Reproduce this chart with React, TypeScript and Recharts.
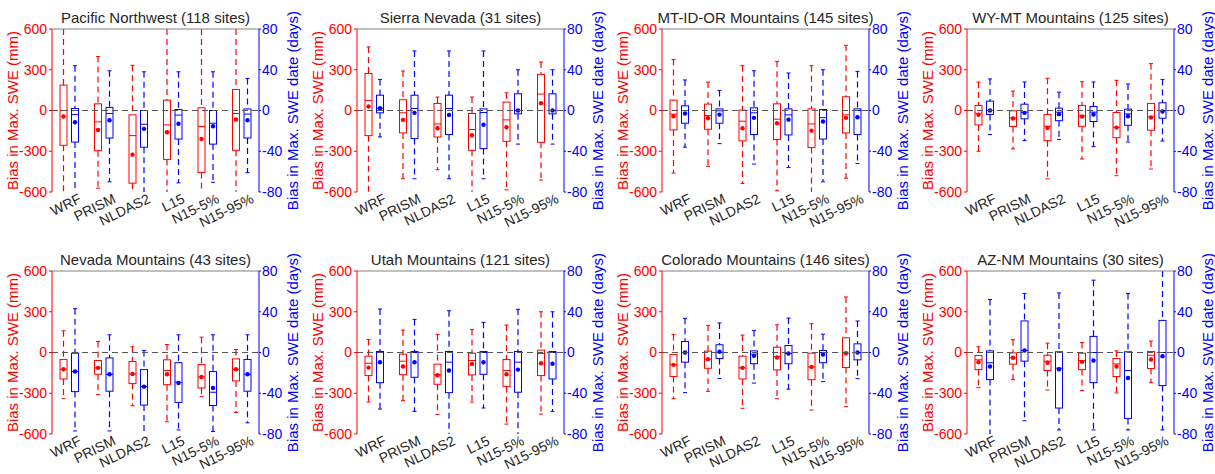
import React from 'react';
import { ComposedChart, Bar, XAxis, YAxis, ReferenceLine } from 'recharts';

const products = ['WRF', 'PRISM', 'NLDAS2', 'L15', 'N15-5%', 'N15-95%'];
const sweTicks = [-600, -300, 0, 300, 600];
const dateTicks = [-80, -40, 0, 40, 80];
const groupEdges = [1, 2, 3, 4, 5];

// each row: [low whisker, q1, median, q3, high whisker, mean], one row per product
const pnwSwe = [
  [-600, -256, 0, 187, 600, -44],
  [-572, -296, -84, 49, 397, -143],
  [-600, -535, -185, -32, 333, -325],
  [-600, -360, -106, 76, 600, -160],
  [-600, -456, -118, 20, 600, -209],
  [-600, -293, -22, 155, 600, -66],
];
const pnwDate = [
  [-80, -31, -4, 2, 44, -11.5],
  [-70, -27, -3, 3, 39, -9.5],
  [-80, -36, -13.5, 0, 38, -18],
  [-71, -28, -4.5, 1, 38, -13],
  [-70.5, -33, -12.5, 0, 38, -15.5],
  [-61, -27, -3.5, 1.5, 31.5, -9.5],
];

const sierraSwe = [
  [-600, -185, 74, 273, 468, 30],
  [-503, -165, -17, 79, 291, -69],
  [-436, -195, -99, 52, 99, -131],
  [-600, -293, -140, -22, 99, -182],
  [-584, -227, -69, 62, 130, -123],
  [-512, -234, 121, 266, 357, 54],
];
const sierraDate = [
  [-26, -2.3, 2.3, 15, 30.5, 2.3],
  [-67, -27.6, 2, 15, 58.5, -2.3],
  [-67, -23.6, 2, 15, 58.5, -4.3],
  [-67, -37.4, -2, 1.6, 58.5, -14],
  [-33, -3.3, 0, 16.4, 40, 0],
  [-33, -3.3, 0, 16.4, 40, 0],
];

const mtidorSwe = [
  [-461, -143, -27, 76, 375, -42],
  [-411, -138, -37, 47, 209, -57],
  [-537, -224, -79, 2.5, 330, -131],
  [-591, -214, -64, 49, 362, -94],
  [-600, -273, -99, 12, 330, -148],
  [-498, -165, -32, 101, 480, -54],
];
const mtidorDate = [
  [-36, -12.5, 0, 4.6, 30, -3],
  [-32.5, -12.5, -0.3, 1.6, 19.7, -4],
  [-52.6, -23.6, -2.3, 2.6, 39, -7.2],
  [-56, -24, -4.3, 1.6, 36.8, -9],
  [-70, -28, -7, 1, 40, -10.8],
  [-52, -23.6, 0, 1.6, 38.4, -6.6],
];

const wymtSwe = [
  [-300, -106, -20, 37, 209, -32],
  [-283, -118, -54, -2.5, 143, -59],
  [-503, -222, -116, -30, 237, -128],
  [-357, -116, -39, 37, 212, -44],
  [-480, -200, -123, -15, 222, -126],
  [-431, -145, -47, 52, 345, -52],
];
const wymtDate = [
  [-23.6, -3.9, 0, 9.2, 31, 0],
  [-29.6, -8.2, -1.6, 6.2, 28, -2.3],
  [-28.6, -10, -1.6, 2.3, 18, -3.6],
  [-35.5, -10.8, -1.6, 3.9, 28, -3.9],
  [-31, -14.5, -3.3, 1.3, 26, -5.6],
  [-30, -7.6, 0, 7.6, 30.5, -1],
];

const nevadaSwe = [
  [-340, -195, -123, -52, 160, -123],
  [-310, -160, -113, -59, 81, -113],
  [-392, -229, -158, -66, 42, -158],
  [-510, -237, -133, -54, 59, -160],
  [-325, -261, -180, -89, 113, -180],
  [-441, -209, -123, -47, 22, -123],
];
const nevadaDate = [
  [-77, -38.4, -18.7, -0.7, 43, -18.7],
  [-77, -38, -21.4, -5.3, 17.4, -21.4],
  [-80, -51.6, -33.5, -16.8, 2, -33.5],
  [-76, -49, -29.2, -10, 17.4, -30],
  [-77.5, -52, -39, -18.7, 17.4, -34.8],
  [-69, -38, -21.4, -6.9, 17.4, -21.4],
];

const utahSwe = [
  [-365, -170, -79, -27, 96, -111],
  [-355, -163, -64, -12, 165, -103],
  [-456, -234, -163, -86, 133, -168],
  [-365, -165, -59, -5, 170, -84],
  [-527, -251, -133, -52, 202, -160],
  [-453, -170, -7, 17, 300, -79],
];
const utahDate = [
  [-55.5, -29.6, 0, 1, 42.7, -9.5],
  [-57.8, -24.3, 0, 1, 32.5, -9.5],
  [-80, -39.4, -9.5, 1, 41, -17.7],
  [-54.5, -21.4, 0, 1, 29.6, -9.5],
  [-80, -39, -9.5, 1, 42.4, -16.8],
  [-57.8, -26, 0, 1, 40, -11],
];

const coloradoSwe = [
  [-340, -177, -91, -15, 133, -91],
  [-286, -116, -49, 10, 200, -49],
  [-411, -195, -113, -27, 128, -113],
  [-340, -128, -30, 39, 204, -37],
  [-424, -200, -106, -5, 212, -106],
  [-399, -111, -5, 108, 409, -5],
];
const coloradoDate = [
  [-39.4, -9.5, 0, 10.8, 33.5, 0],
  [-25.6, -5.9, 0, 7.6, 29, 0.7],
  [-30, -11, -1.6, 1.6, 21.7, -3.3],
  [-36, -11, -1, 6.9, 33.8, -1],
  [-28.6, -10, 0, 2, 18, -2],
  [-25.6, -7.2, 0, 8.5, 30.9, 0],
];

const aznmSwe = [
  [-259, -126, -54, -22, 42, -71],
  [-200, -86, -39, -2.5, 94, -39],
  [-276, -133, -64, -20, 69, -76],
  [-281, -126, -59, -5, 74, -69],
  [-298, -177, -84, -44, 12, -103],
  [-222, -118, -20, 7, 84, -52],
];
const aznmDate = [
  [-80, -26.6, -10, 1.6, 52, -13.8],
  [-67, -8.5, 2, 31, 58, 2],
  [-76, -54.5, -15.4, 0.7, 58.5, -16.4],
  [-76, -29.6, 0, 15.8, 71, -7.9],
  [-76, -64.7, -17.7, 0.7, 57.8, -25],
  [-76, -32.5, 0, 31.5, 80, -3.6],
];

const regions = [
  { title: 'Pacific Northwest (118 sites)', swe: pnwSwe, date: pnwDate },
  { title: 'Sierra Nevada (31 sites)', swe: sierraSwe, date: sierraDate },
  { title: 'MT-ID-OR Mountains (145 sites)', swe: mtidorSwe, date: mtidorDate },
  { title: 'WY-MT Mountains (125 sites)', swe: wymtSwe, date: wymtDate },
  { title: 'Nevada Mountains (43 sites)', swe: nevadaSwe, date: nevadaDate },
  { title: 'Utah Mountains (121 sites)', swe: utahSwe, date: utahDate },
  { title: 'Colorado Mountains (146 sites)', swe: coloradoSwe, date: coloradoDate },
  { title: 'AZ-NM Mountains (30 sites)', swe: aznmSwe, date: aznmDate },
];

const RED = '#ff0000';
const BLUE = '#0000ff';
const FRAME = '#808080';
const TEXT = '#262626';

// draws one box-and-whisker; the bar gives the whisker range in pixels
const BoxShape = (props: any) => {
  const { x, y, width, height, stats, color, limit } = props;
  if (!stats || height === undefined) return null;
  const [lo, q1, med, q3, hi, mean] = stats;
  const top = Math.min(y, y + height);
  const bottom = Math.max(y, y + height);
  const toPx = (v: number) => top + ((hi - v) / (hi - lo)) * (bottom - top);
  const cx = x + width / 2;
  const cap = 2;
  const yq1 = toPx(q1);
  const yq3 = toPx(q3);
  const ymed = toPx(med);
  return (
    <g>
      <line x1={cx} x2={cx} y1={top} y2={yq3} stroke={color} strokeWidth={1.2} strokeDasharray="6 4" />
      <line x1={cx} x2={cx} y1={yq1} y2={bottom} stroke={color} strokeWidth={1.2} strokeDasharray="6 4" />
      {Math.abs(hi) < limit && <line x1={cx - cap} x2={cx + cap} y1={top} y2={top} stroke={color} />}
      {Math.abs(lo) < limit && <line x1={cx - cap} x2={cx + cap} y1={bottom} y2={bottom} stroke={color} />}
      <rect x={x} y={yq3} width={width} height={Math.max(yq1 - yq3, 0.5)} fill="none" stroke={color} />
      <line x1={x} x2={x + width} y1={ymed} y2={ymed} stroke={color} />
      <circle cx={cx} cy={toPx(mean)} r={2.2} fill={color} />
    </g>
  );
};

const XTick = (props: any) => {
  const { x, y, payload } = props;
  const ax = x + 13;
  const ay = y + 2;
  return (
    <text x={ax} y={ay} transform={`rotate(-26 ${ax} ${ay})`} textAnchor="end" fontSize={14} fill={TEXT}>
      {payload.value}
    </text>
  );
};

const Panel = ({ region, col, row }: { region: any; col: number; row: number }) => {
  const data = products.map((name, i) => ({ name, swe: region.swe[i], date: region.date[i] }));
  return (
    <div style={{ position: 'absolute', left: col * 305, top: row * 242, width: 305, height: 237 }}>
      <div
        style={{
          position: 'absolute', left: 15, top: 8, width: 281, textAlign: 'center',
          fontSize: 15, lineHeight: '20px', color: TEXT, whiteSpace: 'nowrap',
        }}
      >
        {region.title}
      </div>
      <ComposedChart width={305} height={237} data={data} margin={{ top: 29, right: 0, left: 0, bottom: 0 }} barGap={4.5} barSize={7}>
        <XAxis xAxisId="grid" type="number" domain={[0, 6]} ticks={groupEdges} tick={false} mirror tickSize={3} stroke={FRAME} height={0} />
        <XAxis xAxisId="cat" dataKey="name" axisLine={false} tickLine={false} interval={0} height={45} tick={<XTick />} />
        <YAxis
          yAxisId="left" domain={[-600, 600]} ticks={sweTicks} width={52} stroke={RED} tickSize={3} tickMargin={2}
          tick={{ fill: RED, fontSize: 14 }}
          label={{ value: 'Bias in Max. SWE (mm)', angle: -90, position: 'insideLeft', offset: 13, fontSize: 15, style: { textAnchor: 'middle', fill: RED } }}
        />
        <YAxis
          yAxisId="right" orientation="right" domain={[-80, 80]} ticks={dateTicks} width={46} stroke={BLUE} tickSize={2} tickMargin={1}
          tick={{ fill: BLUE, fontSize: 14 }}
          label={{ value: 'Bias in Max. SWE date (days)', angle: -90, position: 'insideRight', offset: 12, fontSize: 15, style: { textAnchor: 'middle', fill: BLUE } }}
        />
        <ReferenceLine xAxisId="cat" yAxisId="left" y={0} stroke="#555555" strokeDasharray="6 4" />
        <ReferenceLine xAxisId="cat" yAxisId="left" y={600} stroke={FRAME} ifOverflow="visible" />
        <Bar
          xAxisId="cat" yAxisId="left" barSize={7} isAnimationActive={false}
          dataKey={(d: any) => [d.swe[0], d.swe[4]]}
          shape={(p: any) => <BoxShape {...p} stats={p.payload.swe} color={RED} limit={600} />}
        />
        <Bar
          xAxisId="cat" yAxisId="right" barSize={7} isAnimationActive={false}
          dataKey={(d: any) => [d.date[0], d.date[4]]}
          shape={(p: any) => <BoxShape {...p} stats={p.payload.date} color={BLUE} limit={80} />}
        />
      </ComposedChart>
    </div>
  );
};

export default function App() {
  return (
    <div
      style={{
        position: 'absolute', left: 0, top: 0, width: 1215, height: 474, background: '#fff',
        fontFamily: '"Liberation Sans", Arial, sans-serif', overflow: 'hidden',
      }}
    >
      <style>{'.recharts-surface { overflow: visible; }'}</style>
      {regions.map((r, i) => (
        <Panel key={r.title} region={r} col={i % 4} row={Math.floor(i / 4)} />
      ))}
    </div>
  );
}
